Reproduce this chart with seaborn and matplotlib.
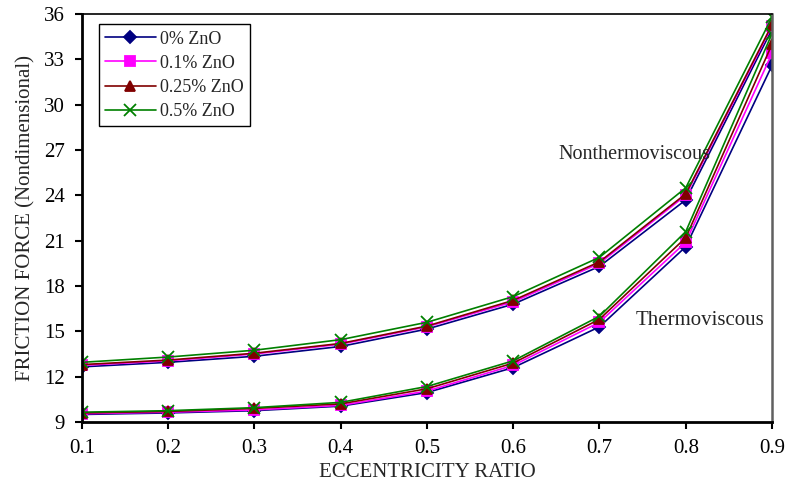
import pandas as pd
import matplotlib.pyplot as plt
import seaborn as sns

# eccentricity ratio values
ecc = [0.1, 0.2, 0.3, 0.4, 0.5, 0.6, 0.7, 0.8, 0.9]

# friction force, nonthermoviscous case
non_0 = [12.65, 12.95, 13.35, 14.0, 15.15, 16.8, 19.3, 23.7, 35.0]
non_01 = [12.75, 13.05, 13.5, 14.15, 15.3, 16.95, 19.5, 24.0, 35.2]
non_025 = [12.8, 13.1, 13.55, 14.2, 15.35, 17.05, 19.6, 24.1, 35.3]
non_05 = [12.95, 13.3, 13.75, 14.45, 15.6, 17.3, 19.9, 24.5, 35.8]

# friction force, thermoviscous case
th_0 = [9.5, 9.6, 9.75, 10.05, 10.95, 12.6, 15.3, 20.6, 32.6]
th_01 = [9.55, 9.65, 9.8, 10.1, 11.05, 12.75, 15.6, 20.9, 33.4]
th_025 = [9.6, 9.7, 9.9, 10.2, 11.2, 12.9, 15.8, 21.2, 34.0]
th_05 = [9.65, 9.75, 9.95, 10.3, 11.35, 13.05, 16.0, 21.6, 34.7]

labels = ['0% ZnO', '0.1% ZnO', '0.25% ZnO', '0.5% ZnO']
non_vals = [non_0, non_01, non_025, non_05]
th_vals = [th_0, th_01, th_025, th_05]

rows = []
for lab, nv, tv in zip(labels, non_vals, th_vals):
    for e, a, b in zip(ecc, nv, tv):
        rows.append({'ZnO': lab, 'case': 'Nonthermoviscous', 'ecc': e, 'force': a})
        rows.append({'ZnO': lab, 'case': 'Thermoviscous', 'ecc': e, 'force': b})
df = pd.DataFrame(rows)

sns.set_theme(style="white")
plt.rcParams['font.family'] = ['Liberation Serif', 'DejaVu Serif']

colors = ['#000080', '#FF00FF', '#800000', '#008000']
marks = ['D', 's', '^', 'x']
msizes = [6, 7, 7, 8]

fig = plt.figure(figsize=(7.87, 4.91), dpi=100)
ax = fig.add_axes([0.104, 0.1405, 0.877, 0.831])

for lab, c, m, ms in zip(labels, colors, marks, msizes):
    sub = df[df['ZnO'] == lab]
    sns.lineplot(data=sub, x='ecc', y='force', units='case', estimator=None,
                 color=c, marker=m, markersize=ms, markeredgecolor=c,
                 markeredgewidth=1.3, linewidth=1.2, ax=ax)

ax.set_xlim(0.1, 0.9)
ax.set_ylim(9, 36)
ax.set_xticks(ecc)
ax.set_xticklabels([f'{v:.1f}' for v in ecc])
ax.set_yticks(range(9, 37, 3))
ax.tick_params(axis='both', labelsize=15, direction='out', length=5, width=1.5,
               left=True, bottom=True, colors='black')
ax.tick_params(axis='x', pad=7)
ax.tick_params(axis='y', pad=7)
ax.set_xlabel('ECCENTRICITY RATIO', fontsize=15, labelpad=4)
ax.set_ylabel('FRICTION FORCE (Nondimensional)', fontsize=15, labelpad=6)
ax.grid(False)

for s in ['left', 'bottom']:
    ax.spines[s].set_color('black')
    ax.spines[s].set_linewidth(2)
ax.spines['top'].set_color('black')
ax.spines['top'].set_linewidth(1.2)
ax.spines['right'].set_color('#606060')
ax.spines['right'].set_linewidth(1.8)

ax.text(0.740, 26.7, 'Nonthermoviscous', fontsize=14.5, ha='center', va='center')
ax.text(0.816, 15.75, 'Thermoviscous', fontsize=15, ha='center', va='center')

# one legend entry per concentration
lines = ax.get_lines()
handles = [lines[2 * i] for i in range(len(labels))]
leg = ax.legend(handles, labels, loc='upper left', bbox_to_anchor=(0.0246, 0.975),
                borderaxespad=0, fontsize=13, frameon=True, fancybox=False,
                framealpha=1, edgecolor='black', handlelength=2.8, borderpad=0.35,
                labelspacing=0.4, handletextpad=0.25)
leg.get_frame().set_linewidth(1.0)

plt.savefig('out.png', dpi=100)
